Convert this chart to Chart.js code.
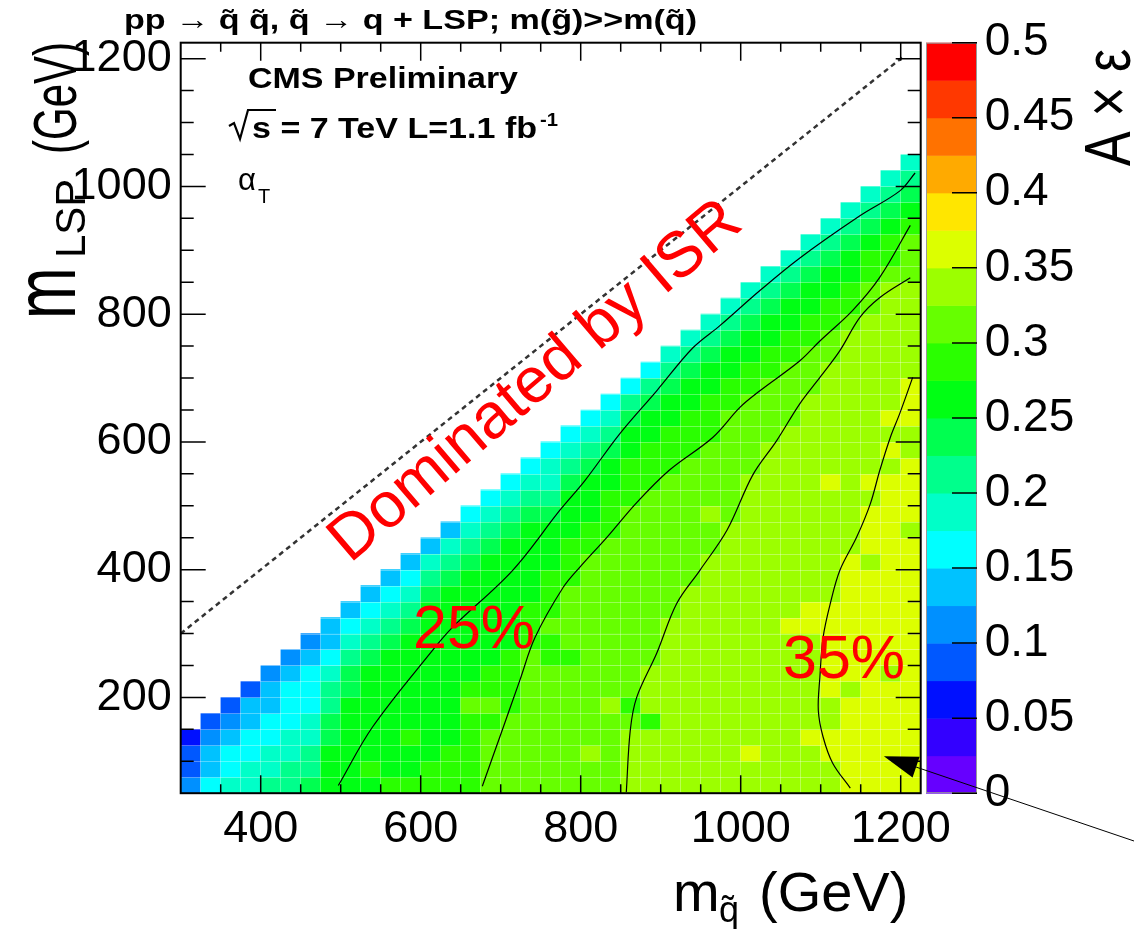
<!DOCTYPE html>
<html><head><meta charset="utf-8">
<script src="https://cdn.jsdelivr.net/npm/chart.js@4.4.1/dist/chart.umd.min.js"></script>
<style>html,body{margin:0;padding:0;background:#fff;overflow:hidden}canvas{display:block}</style>
</head><body>
<canvas id="c" width="1134" height="929"></canvas>
<script>
// ---------------- data ----------------
const squarkMass = [312.5,337.5,362.5,387.5,412.5,437.5,462.5,487.5,512.5,537.5,562.5,587.5,612.5,637.5,662.5,687.5,712.5,737.5,762.5,787.5,812.5,837.5,862.5,887.5,912.5,937.5,962.5,987.5,1012.5,1037.5,1062.5,1087.5,1112.5,1137.5,1162.5,1187.5,1212.5];
const lspMass = [62.5,87.5,112.5,137.5,162.5,187.5,212.5,237.5,262.5,287.5,312.5,337.5,362.5,387.5,412.5,437.5,462.5,487.5,512.5,537.5,562.5,587.5,612.5,637.5,662.5,687.5,712.5,737.5,762.5,787.5,812.5,837.5,862.5,887.5,912.5,937.5,962.5,987.5,1012.5,1037.5];
// A x eps colour bin of every cell, one string per squark-mass column, bottom (lowest m_LSP) to top.
// code k means 0.025*k <= A x eps < 0.025*(k+1)
const accEffBins = [
 "4332",
 "65543",
 "766543",
 "7766553",
 "87766554",
 "887766654",
 "9887766654",
 "AAA99887655",
 "AAAAAA998765",
 "ABAAAAAA98765",
 "BAAAAAAAA98765",
 "BAABAAAAAA98765",
 "BBAAAAAAAAAA9875",
 "BBBAAAAAAAAAA9875",
 "BBBBBCBAAAAAAA9876",
 "CCCCBCBBAAAAAAA9876",
 "CCCCCBBBBAAAAAAA9876",
 "CCCCCCCCCBBBAAAAA9876",
 "CCCCCCCCBBCBBBAAA98776",
 "CCCCCCCCBCCCCBBBAAA9876",
 "CCDCCCCCCCCCCCCBBAAA9876",
 "CCCCCDCCCCCCCCCCBBBAA9876",
 "DDDDCBCCCCCCCCCCCCBBBAA986",
 "DDDDBDDDCCCCCCCCCCCBBBAA986",
 "DDDDDDDDDDDCCCCCCCCCBBBAA987",
 "DDDDDDDDDDDDDCCCCCCCCBBBAA987",
 "DDDDDDDDDDDDDDDCCDCCCCBBBAA987",
 "DDDDDDDDDDDDDDDDDCCCCCCCBBAA987",
 "DDEDDDDDDDDDDDDDDDDDCCCCCBBAA987",
 "DDDDDDDDDDDDDDDDDDDDDDCCCCBBAA987",
 "DDDDDDDDDDEDDDDDDDDDDDDCCCCBBAA987",
 "DDDEDDDDDDEEDDDDDDDDDDDDDCCCBBAA987",
 "DDEEDDEEEEEEDDDDDDDEDDDDDDDCCBBAA987",
 "EEEEEEDEEEEEEEEDDDDDDDDDDDDDDCBBAA987",
 "EEEEEEEEEEEEEEDEEEDEDDDDDDDDDDCCBBA987",
 "EEEEEEEDEEEEEEEEEEEEDEDEDDDDDDDDCBBA987",
 "EEEEEEEEEEEEEEEEDEEEEDDEEEDDDDDDCCCBA987"
];
const binCodes = "0123456789ABCDEFGHIJ";
const accEffBinWidth = 0.025;
// contour lines (m_squark, m_LSP) in GeV
const contour1 = [[497,62],[540,154],[615,274],[640,310],[715,399],[774,493],[805,539],[849,613],[895,680],[940,747],[974,782],[1024,837],[1074,888],[1149,954],[1199,993],[1218,1021]];
const contour2 = [[677,61],[702,149],[724,227],[743,294],[778,372],[799,404],[833,451],[870,505],[911,556],[965,607],[999,654],[1024,680],[1074,727],[1099,758],[1140,806],[1174,858],[1212,939]];
const contour3 = [[857,52],[862,149],[870,200],[895,269],[920,347],[949,399],[983,462],[1015,548],[1045,602],[1074,660],[1099,701],[1124,743],[1149,795],[1174,826],[1212,857]];
const contour4 = [[1137,58],[1115,97],[1103,138],[1097,180],[1099,232],[1103,294],[1112,347],[1124,399],[1145,451],[1162,503],[1174,556],[1187,607],[1199,645],[1215,701]];
const diagonalLine = [[300,300],[1205,1205]];
const arrowTip = [1179,108];
const arrowTail = [1492,-25];
const xTickValues = [400,600,800,1000,1200];
const yTickValues = [200,400,600,800,1000,1200];
const zTickValues = [0,0.05,0.1,0.15,0.2,0.25,0.3,0.35,0.4,0.45,0.5];
const zTickLabels = ["0","0.05","0.1","0.15","0.2","0.25","0.3","0.35","0.4","0.45","0.5"];

// ---------------- styles ----------------
const paletteColors = ['#6600ff','#3300ff','#0010ff','#0058ff','#0090ff','#00c2ff','#00ffff','#00ffc8','#00ff8c','#00ff50',
  '#00ff14','#2aff00','#66ff00','#9cff00','#dcff00','#ffe600','#ffaa00','#ff7200','#ff3800','#ff0000'];
const FONT = '"Liberation Sans", Arial, Helvetica, sans-serif';
const BIN_HALF = 12.5;

const cells = [], cellColors = [];
accEffBins.forEach((col, i) => {
  for (let j = 0; j < col.length; j++) {
    const k = binCodes.indexOf(col[j]);
    const v = (k + 0.5) * accEffBinWidth;
    cells.push({x: squarkMass[i], y: [lspMass[j] - BIN_HALF, lspMass[j] + BIN_HALF], v: v});
    cellColors.push(paletteColors[Math.min(19, Math.floor(v / accEffBinWidth))]);
  }
});
const toPts = arr => arr.map(p => ({x: p[0], y: p[1]}));
const contourStyle = {type:'line', borderColor:'#000', borderWidth:1.2, pointRadius:0, tension:0.35, fill:false, order:1};

function txt(ctx, s, x, y, o) {
  ctx.save();
  ctx.font = (o.weight || 'normal') + ' ' + o.size + 'px ' + FONT;
  ctx.fillStyle = o.color || '#000';
  ctx.textBaseline = 'alphabetic';
  ctx.textAlign = 'left';
  ctx.translate(x, y);
  if (o.rot) ctx.rotate(o.rot);
  let sx = 1;
  if (o.width) { const w = ctx.measureText(s).width; sx = o.width / w; }
  ctx.scale(sx, o.sy || 1);
  ctx.fillText(s, 0, 0);
  ctx.restore();
}
const noPad = s => { s.paddingTop = 0; s.paddingBottom = 0; s.paddingLeft = 0; s.paddingRight = 0; };

const decor = {
  id: 'decor',
  afterDatasetDraw(chart, args) {
    if (args.meta.type !== 'bar') return;
    const {ctx, chartArea: a, scales: {x, y}} = chart;
    ctx.save();
    ctx.beginPath(); ctx.rect(a.left, a.top, a.width, a.height); ctx.clip();
    ctx.strokeStyle = 'rgba(255,255,255,0.33)'; ctx.lineWidth = 1;
    ctx.beginPath();
    squarkMass.forEach(m => { const p = Math.round(x.getPixelForValue(m + BIN_HALF)) - 0.5; ctx.moveTo(p, a.top); ctx.lineTo(p, a.bottom); });
    lspMass.forEach(m => { const p = Math.round(y.getPixelForValue(m + BIN_HALF)) + 0.5; ctx.moveTo(a.left, p); ctx.lineTo(a.right, p); });
    ctx.stroke();
    ctx.restore();
  },
  afterDatasetsDraw(chart) {
    const {ctx, chartArea: a, scales: {x, y, z}} = chart;
    ctx.save();
    // inward ticks on all four sides
    ctx.strokeStyle = '#000'; ctx.lineWidth = 1.5;
    ctx.beginPath();
    for (let v = 350; v < 1225; v += 50) {
      const p = x.getPixelForValue(v); const L = (v % 200 === 0) ? 18 : 9;
      ctx.moveTo(p, a.bottom); ctx.lineTo(p, a.bottom - L);
      ctx.moveTo(p, a.top); ctx.lineTo(p, a.top + L);
    }
    for (let v = 100; v < 1225; v += 50) {
      const p = y.getPixelForValue(v); const L = (v % 200 === 0) ? 25 : 13;
      ctx.moveTo(a.left, p); ctx.lineTo(a.left + L, p);
      ctx.moveTo(a.right, p); ctx.lineTo(a.right - L, p);
    }
    ctx.stroke();
    ctx.lineWidth = 2;
    ctx.strokeRect(a.left, a.top, a.width, a.height);
    // colour bar
    const cbL = 926, cbR = 977;
    paletteColors.forEach((c, k) => {
      const t = z.getPixelForValue((k + 1) * accEffBinWidth), b = z.getPixelForValue(k * accEffBinWidth);
      ctx.fillStyle = c; ctx.fillRect(cbL, t, cbR - cbL, b - t + 0.5);
    });
    ctx.strokeStyle = '#999'; ctx.lineWidth = 1;
    ctx.strokeRect(cbL + 0.5, z.top + 0.5, cbR - cbL - 1, z.bottom - z.top - 1);
    ctx.strokeStyle = '#000'; ctx.lineWidth = 1.5; ctx.beginPath();
    zTickValues.forEach(v => { const p = z.getPixelForValue(v); ctx.moveTo(cbR, p); ctx.lineTo(cbR - 25, p); });
    ctx.stroke();
    // arrow
    const tx = x.getPixelForValue(arrowTip[0]), ty = y.getPixelForValue(arrowTip[1]);
    const sx = x.getPixelForValue(arrowTail[0]), sy = y.getPixelForValue(arrowTail[1]);
    const dx = sx - tx, dy = sy - ty, len = Math.hypot(dx, dy), ux = dx / len, uy = dy / len;
    const hl = 34, hw = 11;
    ctx.strokeStyle = '#000'; ctx.lineWidth = 1;
    ctx.beginPath(); ctx.moveTo(tx + ux * hl, ty + uy * hl); ctx.lineTo(sx, sy); ctx.stroke();
    ctx.fillStyle = '#000'; ctx.beginPath();
    ctx.moveTo(tx, ty);
    ctx.lineTo(tx + ux * hl - uy * hw, ty + uy * hl + ux * hw);
    ctx.lineTo(tx + ux * hl + uy * hw, ty + uy * hl - ux * hw);
    ctx.closePath(); ctx.fill();
    ctx.restore();
  },
  afterDraw(chart) {
    const ctx = chart.ctx;
    const R = -Math.PI / 2;
    // title
    txt(ctx, 'pp \u2192 q\u0303 q\u0303, q\u0303 \u2192 q + LSP; m(g\u0303)>>m(q\u0303)', 124, 29, {size: 28, weight: 'bold', width: 573});
    // labels inside frame
    txt(ctx, 'CMS Preliminary', 248, 88, {size: 29, weight: 'bold', width: 270});
    ctx.save(); ctx.strokeStyle = '#000'; ctx.lineWidth = 2.2; ctx.lineJoin = 'miter';
    ctx.beginPath(); ctx.moveTo(229, 126); ctx.lineTo(234, 123); ctx.lineTo(240, 139); ctx.lineTo(248, 110); ctx.lineTo(276, 110); ctx.stroke(); ctx.restore();
    txt(ctx, 's = 7 TeV L=1.1 fb', 252, 138, {size: 29, weight: 'bold', width: 285});
    txt(ctx, '-1', 540, 126, {size: 19, weight: 'bold', width: 18});
    txt(ctx, '\u03B1', 238, 190, {size: 31});
    txt(ctx, 'T', 258, 203, {size: 20});
    // x title
    txt(ctx, 'm', 673, 911, {size: 56});
    txt(ctx, 'q\u0303', 719, 922, {size: 36});
    txt(ctx, '(GeV)', 759, 911, {size: 56});
    // y title
    txt(ctx, 'm', 75, 319, {size: 62, rot: R, sy: 1.4});
    txt(ctx, 'LSP', 85, 258, {size: 42, rot: R, sy: 1.0});
    txt(ctx, '(GeV)', 76, 154, {size: 42, rot: R, sy: 1.45});
    // colour-bar title
    txt(ctx, 'A \u00D7 \u03B5', 1130, 166, {size: 52, rot: R, sy: 1.25});
    // red annotations
    txt(ctx, 'Dominated by ISR', 350, 564, {size: 64, color: '#ff0000', rot: -40.5 * Math.PI / 180});
    txt(ctx, '25%', 413, 648, {size: 61, color: '#ff0000'});
    txt(ctx, '35%', 783, 678, {size: 61, color: '#ff0000'});
  }
};

const tickFont = {family: FONT, size: 45};
new Chart(document.getElementById('c'), {
  type: 'bar',
  data: {
    datasets: [
      Object.assign({data: toPts(contour1)}, contourStyle),
      Object.assign({data: toPts(contour2)}, contourStyle),
      Object.assign({data: toPts(contour3)}, contourStyle),
      Object.assign({data: toPts(contour4)}, contourStyle),
      {type:'line', data: toPts(diagonalLine), borderColor:'#333', borderWidth:2.5, borderDash:[5,4], pointRadius:0, fill:false, order:1},
      {type:'bar', data: cells, backgroundColor: cellColors, borderWidth: 0, barPercentage: 1, categoryPercentage: 1, grouped: false, order: 5}
    ]
  },
  options: {
    responsive: false, animation: false, events: [],
    layout: {padding: {top: 42.7, left: 0, right: 0, bottom: 0}},
    plugins: {legend: {display: false}, tooltip: {enabled: false}},
    scales: {
      x: {type: 'linear', min: 300, max: 1225, offset: false,
          grid: {display: false, drawTicks: false}, border: {display: false},
          afterBuildTicks: s => { s.ticks = xTickValues.map(v => ({value: v})); },
          afterFit: s => { s.height = 135.8; noPad(s); },
          ticks: {font: tickFont, color: '#000', padding: 9, maxRotation: 0, autoSkip: false, callback: v => String(v)}},
      y: {type: 'linear', position: 'left', min: 50, max: 1225,
          grid: {display: false, drawTicks: false}, border: {display: false},
          afterBuildTicks: s => { s.ticks = yTickValues.map(v => ({value: v})); },
          afterFit: s => { s.width = 180.7; noPad(s); },
          ticks: {font: tickFont, color: '#000', padding: 9, autoSkip: false, callback: v => String(v)}},
      z: {type: 'linear', position: 'right', min: 0, max: 0.5,
          grid: {display: false, drawTicks: false}, border: {display: false},
          afterBuildTicks: s => { s.ticks = zTickValues.map(v => ({value: v})); },
          afterFit: s => { s.width = 213.3; noPad(s); },
          ticks: {font: {family: FONT, size: 46}, color: '#000', padding: 64, autoSkip: false,
                  callback: (v, i) => zTickLabels[i]}}
    }
  },
  plugins: [decor]
});
</script>
</body></html>
